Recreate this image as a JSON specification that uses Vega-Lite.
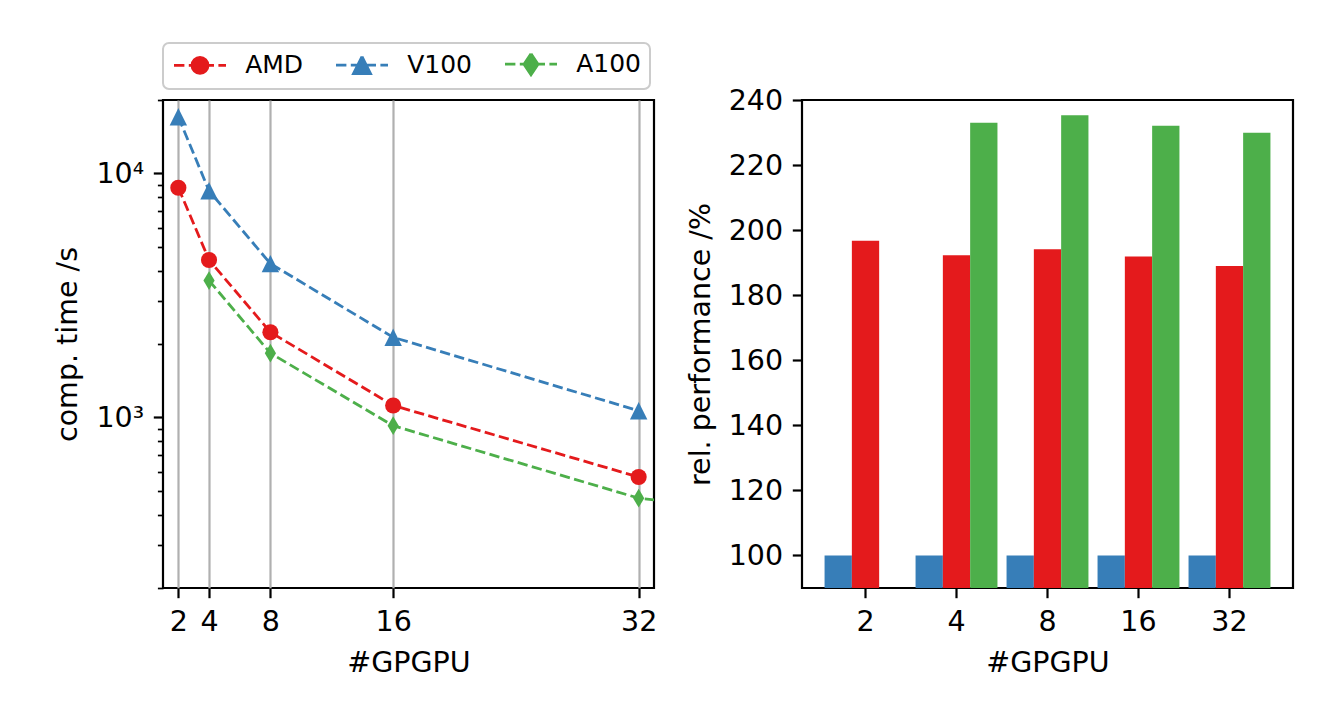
{
  "$schema": "https://vega.github.io/schema/vega-lite/v6.json",
  "background": "white",
  "padding": {"left": 52, "top": 40, "right": 10, "bottom": 10},
  "bounds": "flush",
  "spacing": 148,
  "datasets": {
    "times": [
      {"gpus": 2, "series": "AMD", "time": 8740},
      {"gpus": 4, "series": "AMD", "time": 4420},
      {"gpus": 8, "series": "AMD", "time": 2235},
      {"gpus": 16, "series": "AMD", "time": 1120},
      {"gpus": 32, "series": "AMD", "time": 570},
      {"gpus": 2, "series": "V100", "time": 17060},
      {"gpus": 4, "series": "V100", "time": 8490},
      {"gpus": 8, "series": "V100", "time": 4270},
      {"gpus": 16, "series": "V100", "time": 2130},
      {"gpus": 32, "series": "V100", "time": 1065},
      {"gpus": 4, "series": "A100", "time": 3640},
      {"gpus": 8, "series": "A100", "time": 1834},
      {"gpus": 16, "series": "A100", "time": 925},
      {"gpus": 32, "series": "A100", "time": 467},
      {"gpus": 64, "series": "A100", "time": 283}
    ],
    "perf": [
      {"gpus": "2", "series": "V100", "perf": 100},
      {"gpus": "4", "series": "V100", "perf": 100},
      {"gpus": "8", "series": "V100", "perf": 100},
      {"gpus": "16", "series": "V100", "perf": 100},
      {"gpus": "32", "series": "V100", "perf": 100},
      {"gpus": "2", "series": "AMD", "perf": 196.7},
      {"gpus": "4", "series": "AMD", "perf": 192.3},
      {"gpus": "8", "series": "AMD", "perf": 194.1},
      {"gpus": "16", "series": "AMD", "perf": 191.9},
      {"gpus": "32", "series": "AMD", "perf": 189.0},
      {"gpus": "4", "series": "A100", "perf": 233.0},
      {"gpus": "8", "series": "A100", "perf": 235.3},
      {"gpus": "16", "series": "A100", "perf": 232.1},
      {"gpus": "32", "series": "A100", "perf": 229.9}
    ]
  },
  "resolve": {"scale": {"color": "independent"}, "legend": {"color": "independent"}},
  "hconcat": [
    {
      "width": 491,
      "height": 488,
      "data": {"name": "times"},
      "encoding": {
        "x": {
          "field": "gpus", "type": "quantitative",
          "scale": {"domain": [1, 33], "nice": false, "zero": false},
          "axis": {
            "values": [2, 4, 8, 16, 32], "title": "#GPGPU", "grid": true,
            "gridColor": "#b0b0b0", "gridWidth": 2.2, "labelOverlap": false,
            "labelFlush": false, "labelBound": false, "format": "d"
          }
        },
        "y": {
          "field": "time", "type": "quantitative",
          "scale": {"type": "log", "domain": [200, 20000], "nice": false},
          "axis": {
            "values": [200, 300, 400, 500, 600, 700, 800, 900, 1000, 2000, 3000, 4000, 5000, 6000, 7000, 8000, 9000, 10000, 20000],
            "labelExpr": "datum.value === 1000 ? '10\u00b3' : datum.value === 10000 ? '10\u2074' : ''",
            "tickSize": {"condition": {"test": "datum.value === 1000 || datum.value === 10000", "value": 9.7}, "value": 5.6},
            "tickWidth": {"condition": {"test": "datum.value === 1000 || datum.value === 10000", "value": 2.2}, "value": 1.7},
            "labelOverlap": false, "labelFlush": false, "labelBound": false,
            "title": "comp. time /s", "grid": false
          }
        },
        "color": {
          "field": "series", "type": "nominal",
          "scale": {"domain": ["AMD", "V100", "A100"], "range": ["#e41a1c", "#377eb8", "#4daf4a"]},
          "legend": {
            "orient": "none", "legendX": 0, "legendY": -57,
            "direction": "horizontal", "columns": 3, "columnPadding": 26,
            "title": null, "symbolSize": 400, "labelOffset": 48.7,
            "labelFontSize": 25, "labelFont": "DejaVu Sans", "labelColor": "black",
            "padding": 8.5, "strokeColor": "#cccccc", "cornerRadius": 6,
            "fillColor": "white", "labelLimit": 0,
            "encode": {
              "legend": {"update": {"strokeWidth": {"value": 2}}},
              "symbols": {
                "update": {
                  "shape": {"signal": "'M-1,0H0.04M0.48,0H1.52M1.96,0H3M3.44,0H4.2' + (datum.value === 'AMD' ? 'M0.8,0A0.8,0.8,0,1,1,2.4,0A0.8,0.8,0,1,1,0.8,0Z' : datum.value === 'V100' ? 'M1.6,-0.85L0.75,0.85L2.45,0.85Z' : 'M1.6,-1.05L2.3,0L1.6,1.05L0.9,0Z')"},
                  "fill": {"signal": "datum.value === 'AMD' ? '#e41a1c' : datum.value === 'V100' ? '#377eb8' : '#4daf4a'"},
                  "stroke": {"signal": "datum.value === 'AMD' ? '#e41a1c' : datum.value === 'V100' ? '#377eb8' : '#4daf4a'"},
                  "strokeWidth": {"value": 2.8},
                  "strokeDash": {"value": [100, 0]},
                  "opacity": {"value": 1},
                  "fillOpacity": {"value": 1},
                  "strokeOpacity": {"value": 1}
                }
              }
            }
          }
        }
      },
      "layer": [
        {
          "mark": {"type": "line", "strokeWidth": 2.8, "strokeDash": [10.3, 4.4], "clip": true}
        },
        {
          "mark": {"type": "point", "filled": true, "opacity": 1, "clip": true},
          "encoding": {
            "shape": {
              "field": "series", "type": "nominal",
              "scale": {"domain": ["AMD", "V100", "A100"], "range": ["circle", "M0,-1L-1,1L1,1Z", "M0,-1L0.6,0L0,1L-0.6,0Z"]},
              "legend": null
            },
            "size": {
              "field": "series", "type": "nominal",
              "scale": {"domain": ["AMD", "V100", "A100"], "range": [260, 350, 600]},
              "legend": null
            }
          }
        }
      ]
    },
    {
      "width": 491,
      "height": 488,
      "data": {"name": "perf"},
      "mark": {"type": "bar", "clip": true},
      "encoding": {
        "x": {
          "field": "gpus", "type": "nominal",
          "scale": {"domain": ["2", "4", "8", "16", "32"], "paddingInner": 0.1, "paddingOuter": 0.248},
          "axis": {"labelAngle": 0, "title": "#GPGPU", "grid": false}
        },
        "xOffset": {
          "field": "series", "type": "nominal",
          "scale": {"domain": ["V100", "AMD", "A100"], "paddingInner": 0, "paddingOuter": 0}
        },
        "y": {
          "field": "perf", "type": "quantitative",
          "scale": {"domain": [90, 240], "nice": false, "zero": false},
          "axis": {"values": [100, 120, 140, 160, 180, 200, 220, 240], "title": "rel. performance /%", "grid": false}
        },
        "color": {
          "field": "series", "type": "nominal",
          "scale": {"domain": ["AMD", "V100", "A100"], "range": ["#e41a1c", "#377eb8", "#4daf4a"]},
          "legend": null
        }
      }
    }
  ],
  "config": {
    "font": "DejaVu Sans",
    "view": {"stroke": "black", "strokeWidth": 2.2},
    "axis": {
      "domain": false, "tickColor": "black", "tickWidth": 2.2, "tickSize": 9.7,
      "labelFontSize": 28.5, "labelColor": "black", "labelFont": "DejaVu Sans", "labelPadding": 9.7,
      "titleFontSize": 28.5, "titleFontWeight": "normal", "titleColor": "black", "titleFont": "DejaVu Sans",
      "titlePadding": 13
    }
  }
}
